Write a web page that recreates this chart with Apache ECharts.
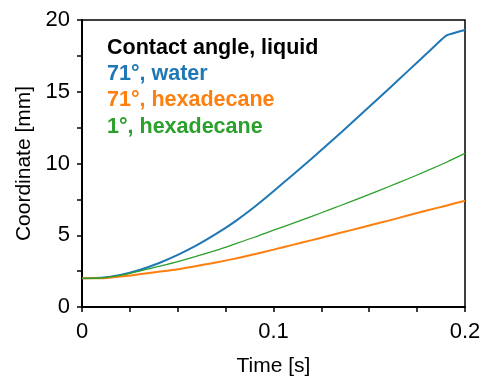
<!DOCTYPE html>
<html>
<head>
<meta charset="utf-8">
<script src="https://cdn.jsdelivr.net/npm/echarts@6/dist/echarts.min.js"></script>
<style>
  html, body { margin: 0; padding: 0; background: #fff; }
  #main { width: 481px; height: 376px; }
</style>
</head>
<body>
<div id="main"></div>
<script>
// time [s]
var times = [0, 0.01, 0.02, 0.03, 0.04, 0.05, 0.06, 0.07, 0.08, 0.09, 0.10,
             0.11, 0.12, 0.13, 0.14, 0.15, 0.16, 0.17, 0.18, 0.19, 0.20];
// coordinate [mm]
var water71 = [2.0, 2.03, 2.23, 2.58, 3.05, 3.63, 4.31, 5.09, 5.97, 6.97, 8.07,
               9.2, 10.35, 11.53, 12.73, 13.95, 15.18, 16.42, 17.66, 18.9, 19.3];
var hexa71 = [2.0, 2.0, 2.12, 2.28, 2.45, 2.63, 2.86, 3.1, 3.37, 3.68, 4.0,
              4.33, 4.66, 5.0, 5.34, 5.68, 6.02, 6.37, 6.72, 7.06, 7.41];
var hexa1 = [2.0, 2.02, 2.2, 2.5, 2.83, 3.17, 3.55, 3.95, 4.4, 4.86, 5.35,
             5.83, 6.32, 6.82, 7.33, 7.85, 8.38, 8.92, 9.48, 10.07, 10.7];
var names = ['71°, water', '71°, hexadecane', '1°, hexadecane'];
var colors = ['#1f77b4', '#ff7f0e', '#2ca02c'];

function pairs(ys) {
    var out = [];
    for (var i = 0; i < times.length; i++) out.push([times[i], ys[i]]);
    return out;
}

var font = 'Liberation Sans, Arial, Helvetica, sans-serif';
var chart = echarts.init(document.getElementById('main'));

var option = {
    animation: false,
    textStyle: { fontFamily: font },
    grid: {
        left: 82, right: 16, top: 20, bottom: 69,
        outerBoundsMode: 'none',
        show: true, borderColor: '#000', borderWidth: 1.5
    },
    title: {
        text: 'Contact angle, liquid',
        left: 107, top: 37, padding: 0,
        textStyle: { fontFamily: font, fontSize: 21.5, fontWeight: 'bold', color: '#000' }
    },
    legend: {
        orient: 'vertical',
        left: 107, top: 63, padding: 0,
        itemWidth: 0, itemHeight: 0, itemGap: 4.5,
        icon: 'none',
        selectedMode: false,
        data: names.map(function (n, i) {
            return { name: n, textStyle: { color: colors[i] } };
        }),
        textStyle: { fontFamily: font, fontSize: 21.5, fontWeight: 'bold', padding: [0, 0, 0, -5] }
    },
    xAxis: {
        type: 'value', min: 0, max: 0.2, interval: 0.025,
        name: 'Time [s]', nameLocation: 'middle', nameGap: 49,
        nameTextStyle: { fontSize: 21, color: '#000', fontFamily: font },
        axisLine: { lineStyle: { color: '#000', width: 2 } },
        axisTick: { length: 5, lineStyle: { color: '#000', width: 1.5 } },
        axisLabel: {
            fontSize: 22, color: '#000', margin: 14,
            formatter: function (v) {
                if (Math.abs(v * 10 - Math.round(v * 10)) < 1e-9) return String(Math.round(v * 10) / 10);
                return '';
            }
        },
        splitLine: { show: false }
    },
    yAxis: {
        type: 'value', min: 0, max: 20, interval: 2.5,
        name: 'Coordinate [mm]', nameLocation: 'middle', nameGap: 47,
        nameTextStyle: { fontSize: 21, color: '#000', fontFamily: font },
        axisLine: { show: true, lineStyle: { color: '#000', width: 2 } },
        axisTick: { show: true, length: 5, lineStyle: { color: '#000', width: 1.5 } },
        axisLabel: {
            fontSize: 22, color: '#000', margin: 12,
            formatter: function (v) { return v % 5 === 0 ? String(v) : ''; }
        },
        splitLine: { show: false }
    },
    series: [
        { name: names[0], type: 'line', data: pairs(water71), showSymbol: false, smooth: 0.12,
          lineStyle: { color: colors[0], width: 2 }, itemStyle: { color: colors[0] } },
        { name: names[1], type: 'line', data: pairs(hexa71), showSymbol: false, smooth: 0.3,
          lineStyle: { color: colors[1], width: 2 }, itemStyle: { color: colors[1] } },
        { name: names[2], type: 'line', data: pairs(hexa1), showSymbol: false, smooth: 0.3,
          lineStyle: { color: colors[2], width: 1.3 }, itemStyle: { color: colors[2] } }
    ]
};
chart.setOption(option);
</script>
</body>
</html>
